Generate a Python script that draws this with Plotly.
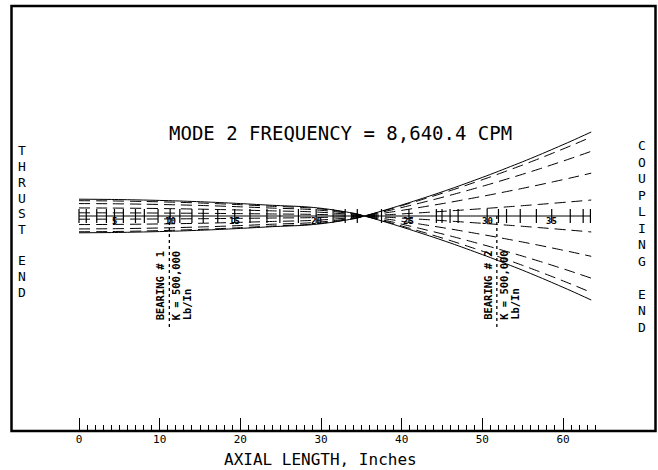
import plotly.graph_objects as go

# ---------------- data ----------------
# Mode-2 shape read along the shaft (axial length in inches, normalised deflection)
axial_in = [0, 4, 8, 12, 16, 20, 24, 28, 30, 32, 33.5, 34.5, 35.4, 37, 39, 41, 43, 45,
            47, 49, 51, 53, 55, 57, 59, 61, 63.5]
mode_amp = [-0.200, -0.197, -0.190, -0.180, -0.166, -0.148, -0.127, -0.110, -0.092,
            -0.066, -0.042, -0.024, 0.0, 0.044, 0.101, 0.161, 0.223, 0.287, 0.354,
            0.424, 0.495, 0.570, 0.646, 0.725, 0.807, 0.891, 1.0]
# relative size of each drawn orbit-phase curve (read at the coupling end)
phase_scale = [1.0, 0.94, 0.77, 0.51, 0.19, -0.19, -0.48, -0.74, -0.91, -1.0]
phase_solid = [True, False, False, False, False, False, False, False, False, True]

# shaft station positions (inches)
stations = [0, 0.9, 2.2, 3.4, 4.4, 5.5, 7.0, 8.1, 9.8, 11.3, 12.5, 14.0, 15.4, 17.2, 19.3,
            21.2, 23.3, 24.9, 27.2, 29.4, 31.5, 33.0, 34.5, 37.5, 40.9, 44.3, 45.0, 46.0,
            47.0, 50.6, 52.0, 53.0, 54.7, 56.7, 58.6, 60.9, 62.5, 63.4]
station_label_nums = [5, 10, 15, 20, 25, 30, 35]

bearing_x = [11.2, 51.8]
bearing_names = ["BEARING # 1", "BEARING # 2"]
bearing_k = "K = 500,000"
bearing_units = "Lb/In"

ruler_major = [0, 10, 20, 30, 40, 50, 60]
ruler_minor = list(range(0, 65))

title_text = "MODE 2 FREQUENCY = 8,640.4 CPM"
left_label = "THRUST END"
right_label = "COUPLING END"
axis_title = "AXIAL LENGTH, Inches"

# ---------------- geometry helpers ----------------
W, H = 658, 470
PX_PER_IN = (563 - 79) / 60.0
X0_PX = 79
CENTER_PX = 216
PX_PER_AMP = 84.0
x_range = [-X0_PX / PX_PER_IN, (W - X0_PX) / PX_PER_IN]
y_range = [-(H - CENTER_PX) / PX_PER_AMP, CENTER_PX / PX_PER_AMP]


def px_y(py):
    return (H - py) / H


def px_x(px):
    return px / W


FONT = "DejaVu Sans Mono"
fig = go.Figure()

# mode shape curves
for s, solid in zip(phase_scale, phase_solid):
    fig.add_trace(go.Scatter(
        x=axial_in, y=[a * s for a in mode_amp], mode="lines",
        line=dict(color="black", width=1, dash="solid" if solid else "11px,6px",
                  shape="spline", smoothing=0.8),
        hoverinfo="skip", showlegend=False))

# shaft centre line
fig.add_trace(go.Scatter(x=[stations[0], stations[-1]], y=[0, 0], mode="lines",
                         line=dict(color="black", width=1), showlegend=False,
                         hoverinfo="skip"))
# station ticks
tx, ty = [], []
th = 7 / PX_PER_AMP
for s in stations:
    tx += [s, s, None]
    ty += [-th, th, None]
fig.add_trace(go.Scatter(x=tx, y=ty, mode="lines", line=dict(color="black", width=1.2),
                         showlegend=False, hoverinfo="skip"))

# bearing dotted lines
bot = -(327 - CENTER_PX) / PX_PER_AMP
for bx in bearing_x:
    fig.add_trace(go.Scatter(x=[bx, bx], y=[0, bot], mode="lines",
                             line=dict(color="black", width=1.3, dash="dot"),
                             showlegend=False, hoverinfo="skip"))

annotations = []
# station numbers
for n in station_label_nums:
    annotations.append(dict(x=stations[n - 1], y=-5 / PX_PER_AMP, xref="x", yref="y",
                            text="<b>%d</b>" % n, showarrow=False,
                            xanchor="center", yanchor="middle",
                            font=dict(family=FONT, size=9, color="black")))

# bearing texts
txt_bot = -(322 - CENTER_PX) / PX_PER_AMP
for bx, name in zip(bearing_x, bearing_names):
    for off, t in [(-9 / PX_PER_IN, name), (7 / PX_PER_IN, bearing_k),
                   (18 / PX_PER_IN, bearing_units)]:
        annotations.append(dict(x=bx + off, y=txt_bot, xref="x", yref="y",
                                text="<b>%s</b>" % t, showarrow=False, textangle=-90,
                                xanchor="center", yanchor="bottom",
                                font=dict(family=FONT, size=10.5, color="black")))


def paper_text(px, py, text, size):
    return dict(x=px_x(px), y=px_y(py), xref="paper", yref="paper", text=text,
                showarrow=False, xanchor="center", yanchor="middle",
                font=dict(family=FONT, size=size, color="black"))


# title
annotations.append(paper_text(340, 133, title_text, 19))
# side labels, one letter per line
for i, ch in enumerate(left_label):
    if ch != " ":
        annotations.append(paper_text(22, 151 + i * 15.7, ch, 13))
for i, ch in enumerate(right_label):
    if ch != " ":
        annotations.append(paper_text(642, 145.5 + i * 16.5, ch, 13))
# axis title
annotations.append(paper_text(320, 459, axis_title, 16))

fig.update_layout(
    width=W, height=H, autosize=False,
    margin=dict(l=0, r=0, t=0, b=0, pad=0),
    paper_bgcolor="white", plot_bgcolor="white",
    showlegend=False,
    xaxis=dict(range=x_range, domain=[0, 1], anchor="free", position=px_y(431),
               showgrid=False, zeroline=False, showline=False,
               tickmode="array", tickvals=ruler_major,
               ticktext=[str(v) for v in ruler_major],
               ticks="inside", ticklen=13, tickwidth=1, tickcolor="black",
               tickfont=dict(family=FONT, size=11, color="black"),
               minor=dict(tickmode="array", tickvals=ruler_minor, ticks="inside",
                          ticklen=6, tickwidth=1, tickcolor="black", showgrid=False)),
    yaxis=dict(range=y_range, domain=[0, 1], visible=False, showgrid=False,
               zeroline=False),
    shapes=[dict(type="rect", xref="paper", yref="paper",
                 x0=px_x(11.5), x1=px_x(655.5), y0=px_y(431), y1=px_y(6),
                 line=dict(color="black", width=2.5))],
    annotations=annotations,
)

fig.write_html("out.html")
